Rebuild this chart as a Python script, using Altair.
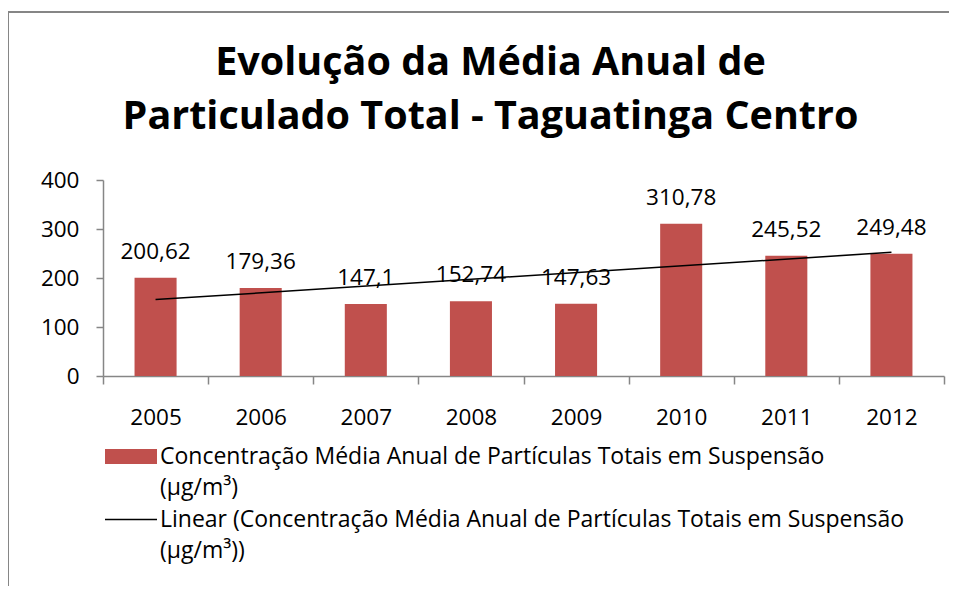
import json
import altair as alt
import pandas as pd

years = ["2005", "2006", "2007", "2008", "2009", "2010", "2011", "2012"]
values = [200.62, 179.36, 147.1, 152.74, 147.63, 310.78, 245.52, 249.48]
y_ticks = [0, 100, 200, 300, 400]
bar_lines = ["Concentração Média Anual de Partículas Totais em Suspensão", "(µg/m³)"]
trend_lines = ["Linear (Concentração Média Anual de Partículas Totais em Suspensão", "(µg/m³))"]
title_lines = ["Evolução da Média Anual de", "Particulado Total - Taguatinga Centro"]

FONT = "Open Sans"
FS = 22.5
FS_LEG = 23
RED = "#C0504D"
GRAY = "#868686"

df = pd.DataFrame({"year": years, "value": values})


def q(s):
    return json.dumps(s, ensure_ascii=False)


x_enc = alt.X(
    "year:N", sort=years, title=None,
    scale=alt.Scale(paddingInner=0, paddingOuter=0),
    axis=alt.Axis(labelAngle=0, tickBand="extent", domainColor=GRAY, tickColor=GRAY,
                  tickSize=8, labelPadding=22, labelFontSize=FS, labelColor="black",
                  labelFont=FONT, domainWidth=1.5, tickWidth=1.5),
)
y_enc = alt.Y(
    "value:Q", title=None,
    scale=alt.Scale(domain=[0, 400]),
    axis=alt.Axis(values=y_ticks, grid=False, domainColor=GRAY, tickColor=GRAY, tickSize=7,
                  labelPadding=17, labelFontSize=FS, labelColor="black", labelFont=FONT,
                  domainWidth=1.5, tickWidth=1.5),
)

one = pd.DataFrame({"a": [0]})
frame_left = alt.Chart(one).mark_rule(color=GRAY, strokeWidth=2).encode(
    x=alt.value(-95), y=alt.value(-169), y2=alt.value(500))
frame_top = alt.Chart(one).mark_rule(color=GRAY, strokeWidth=2).encode(
    x=alt.value(-96), x2=alt.value(846), y=alt.value(-168))

legend_common = dict(title=None, orient="none", legendX=-2, padding=0, symbolSize=225,
                     labelFontSize=FS_LEG, labelFont=FONT, labelLimit=2000, labelOffset=36,
                     labelColor="black", rowPadding=7.5, labelBaseline="middle")

bars = alt.Chart(df).transform_calculate(series=q(bar_lines[0])).mark_bar(
    width={"band": 0.4}
).encode(
    x=x_enc, y=y_enc,
    color=alt.Color(
        "series:N",
        scale=alt.Scale(domain=bar_lines, range=[RED, "transparent"]),
        legend=alt.Legend(legendY=265, symbolType="M-1,-1H5.933V1H-1Z",
                          symbolStrokeWidth=0, **legend_common),
    ),
)

labels = alt.Chart(df).transform_calculate(
    lbl="replace(toString(datum.value), '.', ',')"
).mark_text(baseline="alphabetic", dy=-19, fontSize=FS, font=FONT, color="black").encode(
    x=alt.X("year:N", sort=years), y="value:Q", text="lbl:N"
)

trend = alt.Chart(df).transform_calculate(
    xn="toNumber(datum.year)"
).transform_regression("xn", "value").transform_calculate(
    year="toString(round(datum.xn))", series2=q(trend_lines[0])
).mark_line(strokeWidth=1.5).encode(
    x=alt.X("year:N", sort=years), y="value:Q",
    stroke=alt.Stroke(
        "series2:N",
        scale=alt.Scale(domain=trend_lines, range=["black", "transparent"]),
        legend=alt.Legend(legendY=328, symbolType="M-1,0H5.933",
                          symbolStrokeWidth=1.5, **legend_common),
    ),
)

chart = alt.layer(frame_left, frame_top, bars, trend, labels).properties(
    width=841, height=196,
    title=alt.TitleParams(text=title_lines, fontSize=39.5, font=FONT, fontWeight="bold",
                          lineHeight=54, anchor="middle", frame="group", dx=-33,
                          offset=-127, color="black"),
    autosize=alt.AutoSizeParams(type="none"),
    padding={"left": 95, "top": 172, "right": 7, "bottom": 210},
).resolve_legend(color="independent", stroke="independent").configure_view(stroke=None)

chart.save("out.html", embed_options={"renderer": "svg", "actions": False})
